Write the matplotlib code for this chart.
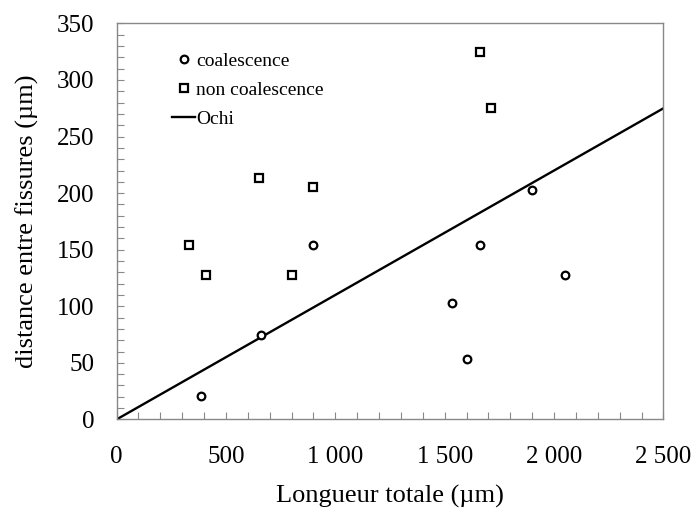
import matplotlib
matplotlib.use("Agg")
import matplotlib.pyplot as plt
from matplotlib.ticker import MultipleLocator, FuncFormatter

# Data
coal_x = [385, 660, 900, 1535, 1600, 1660, 1900, 2050]
coal_y = [21, 75, 154, 103, 53, 154, 203, 128]
noncoal_x = [330, 410, 650, 800, 900, 1660, 1710]
noncoal_y = [154, 128, 213, 128, 205, 325, 275]
ochi_x = [0, 2500]
ochi_y = [0, 275]

plt.rcParams['font.family'] = ['Liberation Serif', 'DejaVu Serif']

fig = plt.figure(figsize=(6.94, 5.09), dpi=100)
ax = fig.add_axes([0.168, 0.176, 0.788, 0.778])

ax.plot(coal_x, coal_y, linestyle='none', marker='o', markersize=5.5,
        markerfacecolor='white', markeredgecolor='black', markeredgewidth=1.6,
        label='coalescence', zorder=3)
ax.plot(noncoal_x, noncoal_y, linestyle='none', marker='s', markersize=5.3,
        markerfacecolor='white', markeredgecolor='black', markeredgewidth=1.6,
        label='non coalescence', zorder=3)
ax.plot(ochi_x, ochi_y, color='black', linewidth=1.7, label='Ochi', zorder=2)

ax.set_xlim(0, 2500)
ax.set_ylim(0, 350)
ax.xaxis.set_major_locator(MultipleLocator(500))
ax.xaxis.set_minor_locator(MultipleLocator(100))
ax.yaxis.set_major_locator(MultipleLocator(50))
ax.yaxis.set_minor_locator(MultipleLocator(10))

def fmt(v, pos):
    return f"{int(round(v)):,}".replace(",", " ")
ax.xaxis.set_major_formatter(FuncFormatter(fmt))

for sp in ax.spines.values():
    sp.set_color('#888888')
    sp.set_linewidth(1.0)

ax.tick_params(axis='both', which='both', direction='in', color='#888888',
               length=5, width=0.8, labelsize=18)
ax.tick_params(axis='x', which='both', top=False, pad=19)
ax.tick_params(axis='y', which='both', right=False, pad=16)

ax.set_xlabel('Longueur totale (µm)', fontsize=19, labelpad=12)
ax.set_ylabel('distance entre fissures (µm)', fontsize=19, labelpad=13)

leg = ax.legend(loc='upper left', bbox_to_anchor=(0.087, 0.947), frameon=False,
                fontsize=14, handlelength=1.2, handletextpad=0.05,
                labelspacing=0.58, borderaxespad=0)

fig.savefig('out.png', dpi=100)
